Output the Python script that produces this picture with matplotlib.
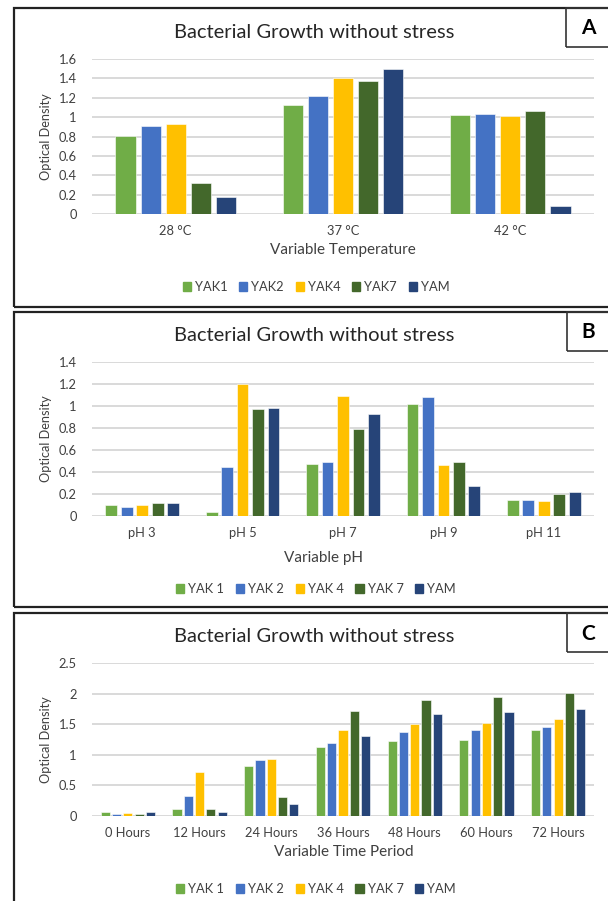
import matplotlib
matplotlib.use("Agg")
import matplotlib.pyplot as plt
from matplotlib.patches import Rectangle, Patch
from matplotlib.ticker import FuncFormatter
import numpy as np

plt.rcParams['font.family'] = ['Lato', 'DejaVu Sans']

# colours of the five strains
colores = ["#70AD47", "#4472C4", "#FFC000", "#43682B", "#264478"]

# Panel A - temperature
temp_cats = ["28 °C", "37 °C", "42 °C"]
temp_series = ["YAK1", "YAK2", "YAK4", "YAK7", "YAM"]
temp_yak1 = [0.81, 1.12, 1.02]
temp_yak2 = [0.91, 1.22, 1.03]
temp_yak4 = [0.93, 1.40, 1.01]
temp_yak7 = [0.32, 1.37, 1.06]
temp_yam = [0.18, 1.50, 0.08]

# Panel B - pH
ph_cats = ["pH 3", "pH 5", "pH 7", "pH 9", "pH 11"]
ph_series = ["YAK 1", "YAK 2", "YAK 4", "YAK 7", "YAM"]
ph_yak1 = [0.10, 0.04, 0.47, 1.02, 0.15]
ph_yak2 = [0.08, 0.45, 0.49, 1.08, 0.15]
ph_yak4 = [0.10, 1.20, 1.09, 0.46, 0.14]
ph_yak7 = [0.12, 0.97, 0.79, 0.49, 0.20]
ph_yam = [0.12, 0.98, 0.93, 0.27, 0.22]

# Panel C - time
time_cats = ["0 Hours", "12 Hours", "24 Hours", "36 Hours", "48 Hours", "60 Hours", "72 Hours"]
time_series = ["YAK 1", "YAK 2", "YAK 4", "YAK 7", "YAM"]
time_yak1 = [0.06, 0.12, 0.81, 1.12, 1.23, 1.25, 1.40]
time_yak2 = [0.03, 0.32, 0.91, 1.19, 1.38, 1.40, 1.45]
time_yak4 = [0.05, 0.72, 0.93, 1.40, 1.50, 1.52, 1.58]
time_yak7 = [0.03, 0.11, 0.31, 1.72, 1.90, 1.95, 2.01]
time_yam = [0.06, 0.07, 0.19, 1.31, 1.67, 1.70, 1.75]

W, H = 608, 901
fig = plt.figure(figsize=(W / 100, H / 100), dpi=100)

def px(x, y):
    return x / W, 1 - y / H

paneles = [
    dict(cats=temp_cats, series=temp_series, data=[temp_yak1, temp_yak2, temp_yak4, temp_yak7, temp_yam],
         ymax=1.6, step=0.2, top=59, bot=214, box=(8, 307), tag="A", tagbox=(566, 8, 47),
         xlabel="Variable Temperature", xlab=(343, 250), pitch=0.15, width=0.12),
    dict(cats=ph_cats, series=ph_series, data=[ph_yak1, ph_yak2, ph_yak4, ph_yak7, ph_yam],
         ymax=1.4, step=0.2, top=362, bot=516, box=(312, 607), tag="B", tagbox=(567, 312, 351),
         xlabel="Variable pH", xlab=(323, 558), pitch=0.154, width=0.117),
    dict(cats=time_cats, series=time_series, data=[time_yak1, time_yak2, time_yak4, time_yak7, time_yam],
         ymax=2.5, step=0.5, top=663, bot=816, box=(613, 915), tag="C", tagbox=(567, 613, 652),
         xlabel="Variable Time Period", xlab=(344, 852), pitch=0.157, width=0.128),
]

for p in paneles:
    # panel frame
    y0, y1 = p["box"]
    fig.patches.append(Rectangle(px(14, y1), (W + 20) / W, (y1 - y0) / H, transform=fig.transFigure,
                                 fill=False, edgecolor="#222222", linewidth=1.6, clip_on=False))
    tx, ty0, ty1 = p["tagbox"]
    fig.patches.append(Rectangle(px(tx, ty1), (W + 20 - tx) / W, (ty1 - ty0) / H, transform=fig.transFigure,
                                 fill=False, edgecolor="#333333", linewidth=1.2, clip_on=False))
    fig.text(*px(588, (ty0 + ty1) / 2 + 1), p["tag"], fontsize=15, fontweight="bold",
             ha="center", va="center", color="black")

    left, right = 92, 594
    l, b = px(left, p["bot"])
    ax = fig.add_axes([l, b, (right - left) / W, (p["bot"] - p["top"]) / H])
    x = np.arange(len(p["cats"]))
    for i, vals in enumerate(p["data"]):
        ax.bar(x + (i - 2) * p["pitch"], vals, p["width"], color=colores[i],
               edgecolor="white", linewidth=0.4, zorder=3)
    ax.set_xlim(-0.5, len(p["cats"]) - 0.5)
    ax.set_ylim(0, p["ymax"])
    ax.set_yticks(np.arange(0, p["ymax"] + 1e-6, p["step"]))
    ax.yaxis.set_major_formatter(FuncFormatter(lambda v, pos: "{:g}".format(round(v, 2))))
    ax.set_xticks(x)
    ax.set_xticklabels(p["cats"])
    ax.tick_params(axis="both", length=0, labelsize=9.3, colors="#404040")
    ax.tick_params(axis="x", pad=8)
    ax.tick_params(axis="y", pad=11)
    ax.grid(axis="y", color="#D9D9D9", linewidth=1.4, zorder=0)
    for s in ax.spines.values():
        s.set_visible(False)
    ax.set_facecolor("none")

    fig.text(*px(314, p["top"] - 27), "Bacterial Growth without stress", fontsize=14.5,
             ha="center", va="center", color="#262626")
    fig.text(*px(*p["xlab"]), p["xlabel"], fontsize=11,
             ha="center", va="center", color="#404040")
    fig.text(*px(46, (p["top"] + p["bot"]) / 2), "Optical Density", fontsize=9.2, rotation=90,
             ha="center", va="center", color="#404040")

    handles = [Patch(color=colores[i], label=p["series"][i]) for i in range(5)]
    fig.legend(handles=handles, loc="center", bbox_to_anchor=px(316, p["bot"] + 73), ncol=5,
               frameon=False, fontsize=9.3, handlelength=0.65, handleheight=0.65,
               handletextpad=0.3, columnspacing=0.9, labelcolor="#404040")

fig.savefig("out.png", dpi=100)
